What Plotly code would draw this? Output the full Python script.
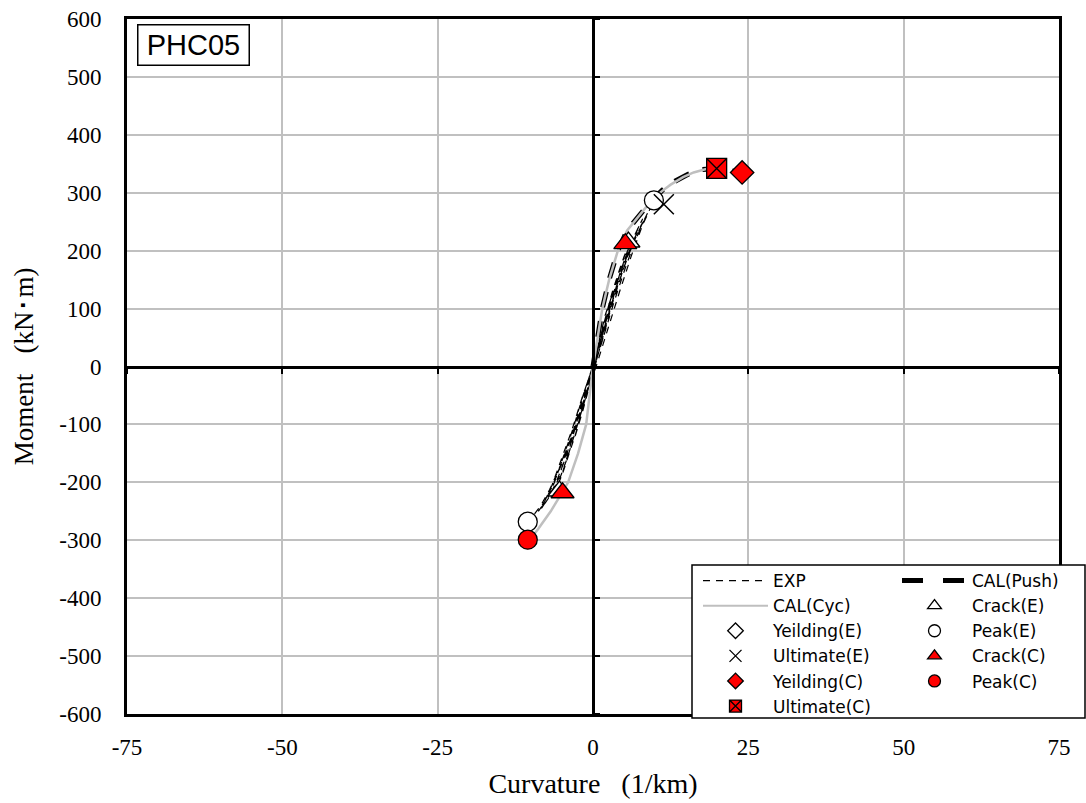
import plotly.graph_objects as go

# ---- tick labels -------------------------------------------------------
X_TICKS = [-75, -50, -25, 0, 25, 50, 75]
Y_TICKS = [-600, -500, -400, -300, -200, -100, 0, 100, 200, 300, 400, 500, 600]

# ---- EXP: measured moment-curvature hysteresis (1/km, kN*m) ------------
EXP_CURV = [
    0, 1.0, 2.0, 3.3, 2.6, 1.5, 0.4, -0.6, -1.6, -3.0, -2.4, -1.3, -0.2,
    0.8, 1.9, 3.0, 4.2, 5.0, 5.8, 5.1, 4.0, 2.6, 1.2, 0, -1.3, -2.6, -3.8, -4.9, -5.8,
    -5.1, -4.0, -2.7, -1.3, 0,
    1.0, 2.2, 3.4, 4.6, 5.6, 6.2, 5.5, 4.3, 2.9, 1.4, 0.1, -1.4, -2.8, -4.1, -5.3, -6.3,
    -5.6, -4.4, -3.0, -1.5, 0,
    1.1, 2.4, 3.7, 5.0, 6.2, 7.2, 8.0, 7.3, 6.0, 4.6, 3.0, 1.5, 0, -1.6, -3.1, -4.6,
    -6.0, -7.2, -8.3, -7.5, -6.2, -4.8, -3.2, -1.6, 0,
    1.3, 2.7, 4.0, 5.4, 6.7, 7.8, 8.6, 7.9, 6.6, 5.1, 3.4, 1.7, 0.1, -1.8, -3.5, -5.1,
    -6.6, -7.8, -8.8, -8.0, -6.6, -5.1, -3.4, -1.7, 0,
    1.4, 2.9, 4.3, 5.7, 7.0, 8.2, 9.1, 9.8, 9.3, 7.9, 6.2, 4.3, 2.3, 0.5, -1.7, -3.6,
    -5.4, -7.0, -8.4, -9.5, -10.5,
]
EXP_MOM = [
    0, 45, 90, 130, 105, 55, 5, -35, -75, -125, -100, -50, -5,
    35, 80, 125, 165, 190, 210, 192, 155, 100, 40, -10, -60, -110, -150, -185, -208,
    -190, -150, -100, -45, 0,
    40, 85, 130, 170, 200, 215, 198, 160, 105, 45, -8, -62, -112, -157, -192, -212,
    -195, -155, -105, -48, 2,
    45, 95, 140, 180, 215, 238, 255, 240, 205, 160, 105, 45, -8, -65, -115, -163,
    -202, -228, -245, -232, -200, -158, -107, -50, 2,
    50, 100, 145, 188, 222, 245, 258, 245, 212, 167, 112, 50, -5, -70, -122, -170,
    -208, -233, -250, -238, -205, -162, -110, -52, 0,
    52, 105, 150, 192, 226, 252, 272, 287, 275, 242, 192, 130, 62, 0, -68, -125,
    -175, -213, -240, -256, -268,
]

# ---- CAL(Push): monotonic analysis -------------------------------------
PUSH_CURV = [0, 0.7, 1.5, 2.6, 4.0, 5.5, 7.2, 9.3, 11.2, 13.2, 15.3, 17.4, 19.9, 22.0, 24.0]
PUSH_MOM = [0, 50, 100, 150, 200, 235, 258, 285, 305, 320, 332, 340, 342, 339, 335]

# ---- CAL(Cyc): cyclic analysis envelope --------------------------------
CYC_CURV = [-10.5, -9.5, -8.8, -7.8, -6.8, -5.4, -4.0, -2.4, -1.1, 0, 0.7, 1.5, 2.6, 4.0,
            5.5, 7.2, 9.3, 11.0, 12.5, 14.5, 16.2, 18.5, 19.9]
CYC_MOM = [-299, -290, -280, -265, -250, -225, -200, -150, -100, 0, 50, 100, 150, 200,
           235, 258, 285, 302, 314, 327, 335, 342, 342]

# ---- characteristic points ----------------------------------------------
CRACK_E_CURV, CRACK_E_MOM = [5.7, -5.4], [215, -215]
YIELD_E_CURV, YIELD_E_MOM = [], []
PEAK_E_CURV, PEAK_E_MOM = [9.8, -10.5], [287, -268]
ULT_E_CURV, ULT_E_MOM = [11.4], [280]
CRACK_C_CURV, CRACK_C_MOM = [5.2, -4.9], [212, -218]
YIELD_C_CURV, YIELD_C_MOM = [24.0], [335]
PEAK_C_CURV, PEAK_C_MOM = [-10.5], [-299]
ULT_C_CURV, ULT_C_MOM = [19.9], [342]

RED = "#ff0000"
GRAY = "#bfbfbf"
GRID = "#c0c0c0"
SERIF = "Liberation Serif, Times New Roman, serif"
SANS = "DejaVu Sans, sans-serif"
GAP = "\u00a0\u00a0\u00a0"

# marker styles: name -> (symbol, size on plot, fill, outline width)
MARKERS = {
    "Crack(E)": ("triangle-up", 20, "white", 1.3),
    "Yeilding(E)": ("diamond", 18, "white", 1.3),
    "Peak(E)": ("circle", 19, "white", 1.3),
    "Ultimate(E)": ("x-thin", 20, "black", 1.5),
    "Crack(C)": ("triangle-up", 20, RED, 1.3),
    "Yeilding(C)": ("diamond", 18, RED, 1.3),
    "Peak(C)": ("circle", 19, RED, 1.3),
    "Ultimate(C)": ("square-x", 20, RED, 1.3),
}
LINES = {
    "EXP": ("black", 1.2, "7px,6px"),
    "CAL(Push)": ("black", 5, "16px,14px"),
    "CAL(Cyc)": (GRAY, 2.5, "solid"),
}

fig = go.Figure()

# ---- data, drawn in the legend's row-by-row order -------------------------
for name, xs, ys in [("EXP", EXP_CURV, EXP_MOM), ("CAL(Push)", PUSH_CURV, PUSH_MOM),
                     ("CAL(Cyc)", CYC_CURV, CYC_MOM)]:
    c, w, d = LINES[name]
    fig.add_trace(go.Scatter(x=xs, y=ys, mode="lines", name=name, showlegend=False,
                             line=dict(color=c, width=w, dash=d)))

for name, xs, ys in [("Crack(E)", CRACK_E_CURV, CRACK_E_MOM),
                     ("Yeilding(E)", YIELD_E_CURV, YIELD_E_MOM),
                     ("Peak(E)", PEAK_E_CURV, PEAK_E_MOM),
                     ("Ultimate(E)", ULT_E_CURV, ULT_E_MOM),
                     ("Crack(C)", CRACK_C_CURV, CRACK_C_MOM),
                     ("Yeilding(C)", YIELD_C_CURV, YIELD_C_MOM),
                     ("Peak(C)", PEAK_C_CURV, PEAK_C_MOM),
                     ("Ultimate(C)", ULT_C_CURV, ULT_C_MOM)]:
    sym, size, fill, lw = MARKERS[name]
    fig.add_trace(go.Scatter(x=xs, y=ys, mode="markers", name=name, showlegend=False,
                             marker=dict(symbol=sym, size=size, color=fill,
                                         line=dict(color="black", width=lw))))

# ---- legend keys (no data, small symbols) ---------------------------------
LEGEND_COLS = {
    "legend": ["EXP", "CAL(Cyc)", "Yeilding(E)", "Ultimate(E)", "Yeilding(C)",
               "Ultimate(C)"],
    "legend2": ["CAL(Push)", "Crack(E)", "Peak(E)", "Crack(C)", "Peak(C)"],
}
for leg, names in LEGEND_COLS.items():
    for name in names:
        if name in LINES:
            c, w, d = LINES[name]
            if name == "CAL(Push)":
                d = "21px,20px"
            if name == "CAL(Cyc)":
                w = 2
            fig.add_trace(go.Scatter(x=[None], y=[None], mode="lines", name=name,
                                     legend=leg, line=dict(color=c, width=w, dash=d)))
        else:
            sym, size, fill, lw = MARKERS[name]
            fig.add_trace(go.Scatter(x=[None], y=[None], mode="markers", name=name,
                                     legend=leg,
                                     marker=dict(symbol=sym, size=12, color=fill,
                                                 line=dict(color="black", width=1.3))))

# empty trace that carries the axes crossing at the origin
fig.add_trace(go.Scatter(x=[], y=[], xaxis="x2", yaxis="y2", showlegend=False,
                         hoverinfo="skip"))

W, H = 1086, 803
ML, MR, MT, MB = 127, 27, 19, 89
PW, PH = W - ML - MR, H - MT - MB


def px_x(p):
    return (p - ML) / PW


def px_y(p):
    return (H - MB - p) / PH


axis_common = dict(showline=True, mirror=True, linecolor="black", linewidth=3,
                   showgrid=True, gridcolor=GRID, gridwidth=1.5, zeroline=False,
                   automargin=False, ticks="",
                   tickfont=dict(family=SERIF, size=23, color="black"))

legend_common = dict(xanchor="left", yanchor="top", bgcolor="rgba(0,0,0,0)",
                     borderwidth=0, itemwidth=65, itemsizing="trace",
                     tracegroupgap=0, traceorder="normal",
                     font=dict(family=SANS, size=17, color="black"))

fig.update_layout(
    width=W, height=H, autosize=False,
    margin=dict(l=ML, r=MR, t=MT, b=MB),
    plot_bgcolor="white", paper_bgcolor="white",
    xaxis=dict(range=[-75, 75], tickmode="array", tickvals=X_TICKS,
               ticktext=[str(v) for v in X_TICKS], ticklabelstandoff=10,
               title=dict(text="Curvature" + GAP + "(1/km)", standoff=15,
                          font=dict(family=SERIF, size=28, color="black")),
               **axis_common),
    yaxis=dict(range=[-600, 600], tickmode="array", tickvals=Y_TICKS,
               ticktext=[str(v) for v in Y_TICKS], ticklabelstandoff=18,
               title=dict(text="Moment" + GAP + "(kN\uff65m)\u00a0\u00a0", standoff=18,
                          font=dict(family=SERIF, size=27, color="black")),
               **axis_common),
    xaxis2=dict(overlaying="x", anchor="free", position=0.5, range=[-75, 75],
                tickmode="array", tickvals=X_TICKS, ticks="outside", ticklen=5,
                tickwidth=2, tickcolor="black", showticklabels=False,
                showgrid=False, zeroline=False, showline=True, linecolor="black",
                linewidth=3),
    yaxis2=dict(overlaying="y", anchor="free", position=0.5, side="right",
                range=[-600, 600], tickmode="array", tickvals=Y_TICKS,
                ticks="outside", ticklen=5, tickwidth=2, tickcolor="black",
                showticklabels=False, showgrid=False, zeroline=False,
                showline=True, linecolor="black", linewidth=3),
    legend=dict(x=px_x(698), y=px_y(563), **legend_common),
    legend2=dict(x=px_x(897), y=px_y(563), **legend_common),
    shapes=[dict(type="rect", xref="paper", yref="paper", layer="above",
                 x0=px_x(692), x1=px_x(1085), y0=px_y(718), y1=px_y(565),
                 fillcolor="white", line=dict(color="black", width=1.5))],
    annotations=[dict(text="PHC05", xref="paper", yref="paper",
                      x=px_x(193), y=px_y(45), xanchor="center", yanchor="middle",
                      showarrow=False, bgcolor="white", bordercolor="black",
                      borderwidth=1.5, borderpad=6, width=98, height=27,
                      font=dict(family="Liberation Sans, Arial, sans-serif", size=29,
                                color="black"))],
)

fig.write_html("out.html")
